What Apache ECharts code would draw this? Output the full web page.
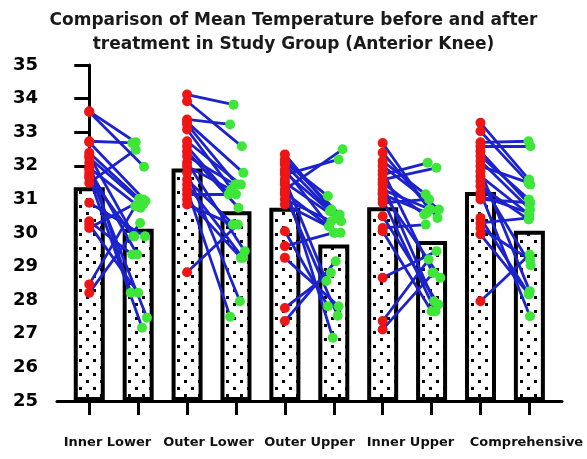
<!DOCTYPE html>
<html><head><meta charset="utf-8">
<script src="https://cdn.jsdelivr.net/npm/echarts@6/dist/echarts.min.js"></script>
<style>html,body{margin:0;padding:0;background:#fff}#c{width:587px;height:459px}</style>
</head><body><div id="c"></div>
<script>
// ---- data ----
const groups = ['Inner Lower', 'Outer Lower', 'Outer Upper', 'Inner Upper', 'Comprehensive'];
const yTickLabels = ['25','26','27','28','29','30','31','32','33','34','35'];
const meanBefore = [31.36, 31.92, 30.75, 30.77, 31.22];
const meanAfter  = [30.13, 30.65, 29.66, 29.76, 30.07];

const innerLowerBefore = [33.62, 33.60, 32.73, 32.70, 32.39, 32.30, 32.24, 32.09, 31.94, 31.90, 31.79, 31.70, 31.64, 31.49, 30.90, 30.35, 30.25, 30.15, 28.47, 28.22];
const innerLowerAfter  = [32.70, 31.97, 32.68, 30.95, 31.02, 29.90, 30.85, 28.22, 30.75, 29.36, 27.48, 29.90, 27.18, 32.48, 29.90, 29.36, 28.22, 31.00, 30.80, 30.30];

const outerLowerBefore = [34.12, 33.92, 33.38, 33.30, 33.23, 33.08, 32.73, 32.58, 32.43, 32.29, 32.10, 31.99, 31.80, 31.59, 31.44, 31.29, 31.15, 31.00, 30.85, 28.83];
const outerLowerAfter  = [33.82, 32.58, 33.23, 31.79, 31.44, 31.29, 31.44, 31.15, 30.75, 31.44, 29.46, 31.29, 27.97, 30.25, 29.26, 27.51, 31.15, 29.26, 30.25, 30.25];

const outerUpperBefore = [32.34, 32.19, 32.10, 32.04, 31.89, 31.80, 31.74, 31.59, 31.50, 31.44, 31.29, 31.20, 31.15, 31.00, 30.85, 30.05, 29.61, 29.26, 27.77, 27.38];
const outerUpperAfter  = [30.70, 30.55, 31.10, 30.35, 30.01, 30.65, 32.19, 28.57, 30.45, 26.88, 32.49, 30.20, 27.54, 30.35, 30.01, 27.82, 30.01, 27.82, 28.82, 29.16];

const innerUpperBefore = [32.68, 32.39, 32.14, 32.00, 31.85, 31.74, 31.59, 31.50, 31.44, 31.29, 31.20, 31.15, 31.00, 30.90, 30.50, 30.15, 30.05, 28.67, 27.38, 27.13];
const innerUpperAfter  = [30.70, 30.45, 31.15, 30.70, 28.82, 32.09, 31.94, 30.55, 27.97, 30.70, 28.67, 30.60, 27.67, 31.00, 27.87, 30.25, 27.67, 29.46, 29.21, 28.82];

const comprehensiveBefore = [33.28, 33.03, 32.70, 32.58, 32.43, 32.29, 32.14, 31.99, 31.84, 31.69, 31.54, 31.39, 31.20, 31.10, 31.00, 30.45, 30.30, 30.15, 29.96, 27.97];
const comprehensiveAfter  = [31.59, 31.44, 32.73, 32.58, 30.85, 31.00, 30.70, 31.50, 28.27, 30.55, 29.04, 30.40, 27.52, 30.60, 30.90, 28.20, 30.45, 29.20, 28.17, 29.36];

// ---- presentation ----
const beforeSets = [innerLowerBefore, outerLowerBefore, outerUpperBefore, innerUpperBefore, comprehensiveBefore];
const afterSets  = [innerLowerAfter, outerLowerAfter, outerUpperAfter, innerUpperAfter, comprehensiveAfter];
// horizontal scatter of the "after" dots (category units)
const afterSpread = [-0.05, 0.12, -0.12, 0.15, 0.02, -0.08, 0.1, -0.15, 0.05, -0.02, 0.18, -0.1, 0.08, -0.05, 0.14, -0.12, 0.0, 0.1, -0.06, 0.04];
const spreadScale = [1, 1, 1, 1, 0.15];

const pc = document.createElement('canvas');
pc.width = 14; pc.height = 14;
const ctx = pc.getContext('2d');
ctx.fillStyle = '#fff'; ctx.fillRect(0, 0, 14, 14);
ctx.fillStyle = '#000';
ctx.fillRect(2, 2, 3, 3);
ctx.fillRect(9, 9, 3, 3);

const barData = [];
const lineData = [];
const redData = [];
const greenData = [];
groups.forEach((g, gi) => {
  const xb = gi * 2, xa = gi * 2 + 1;
  barData.push([xb, meanBefore[gi]], [xa, meanAfter[gi]]);
  beforeSets[gi].forEach((b, i) => {
    const a = afterSets[gi][i];
    const xj = xa + afterSpread[i] * spreadScale[gi];
    lineData.push({ coords: [[xb, b], [xj, a]] });
    redData.push([xb, b]);
    greenData.push([xj, a]);
  });
});

const FONT = 'DejaVu Sans';
const labelText = { fontFamily: FONT, fontWeight: 'bold', fontSize: 13, color: '#111' };
const chart = echarts.init(document.getElementById('c'), null, { renderer: 'canvas' });
chart.setOption({
  animation: false,
  backgroundColor: '#fff',
  title: {
    text: 'Comparison of Mean Temperature before and after\ntreatment in Study Group (Anterior Knee)',
    left: 'center', top: 4,
    textStyle: { fontFamily: FONT, fontWeight: 'bold', fontSize: 17, color: '#1a1a1a', lineHeight: 24 }
  },
  grid: { left: 57, right: 25, top: 65, bottom: 58 },
  xAxis: [
    {
      type: 'value', min: -0.66, max: 9.667,
      axisLine: { show: true, onZero: false, lineStyle: { color: '#000', width: 3 } },
      axisTick: { show: true, customValues: [0,1,2,3,4,5,6,7,8,9], length: 14, lineStyle: { color: '#000', width: 3 } },
      axisLabel: { show: false },
      splitLine: { show: false }
    },
    {
      type: 'category', data: groups, position: 'bottom',
      axisLine: { show: false }, axisTick: { show: false }, splitLine: { show: false },
      axisLabel: Object.assign({
        interval: 0, margin: 35,
        formatter: (v, i) => (i === groups.length - 1 ? '{s|' + v + '}' : '{n|' + v + '}'),
        rich: {
          n: Object.assign({}, labelText),
          s: Object.assign({ padding: [0, 0, 0, 30] }, labelText)
        }
      }, labelText)
    }
  ],
  yAxis: {
    type: 'value', min: 25, max: 35, interval: 1, startValue: 25,
    axisLine: { show: true, lineStyle: { color: '#000', width: 3 } },
    axisTick: { show: true, length: 15, lineStyle: { color: '#000', width: 3 } },
    axisLabel: { margin: 19, fontFamily: FONT, fontWeight: 'bold', fontSize: 18, color: '#000',
      formatter: v => yTickLabels[Math.round(v - 25)] },
    splitLine: { show: false }
  },
  series: [
    {
      type: 'bar', data: barData, barWidth: 31, barMaxWidth: 45, clip: true, z: 1,
      itemStyle: { color: { image: pc, repeat: 'repeat' }, borderColor: '#000', borderWidth: 4 }
    },
    {
      type: 'lines', coordinateSystem: 'cartesian2d', data: lineData, z: 3,
      lineStyle: { color: '#1c22cc', width: 2.8, opacity: 1, curveness: 0 }
    },
    {
      type: 'scatter', data: redData, symbol: 'circle', symbolSize: 10, z: 4,
      itemStyle: { color: '#ee1515', opacity: 1 }
    },
    {
      type: 'scatter', data: greenData, symbol: 'circle', symbolSize: 10, z: 4,
      itemStyle: { color: '#3ee63a', opacity: 1 }
    }
  ]
});
</script></body></html>
